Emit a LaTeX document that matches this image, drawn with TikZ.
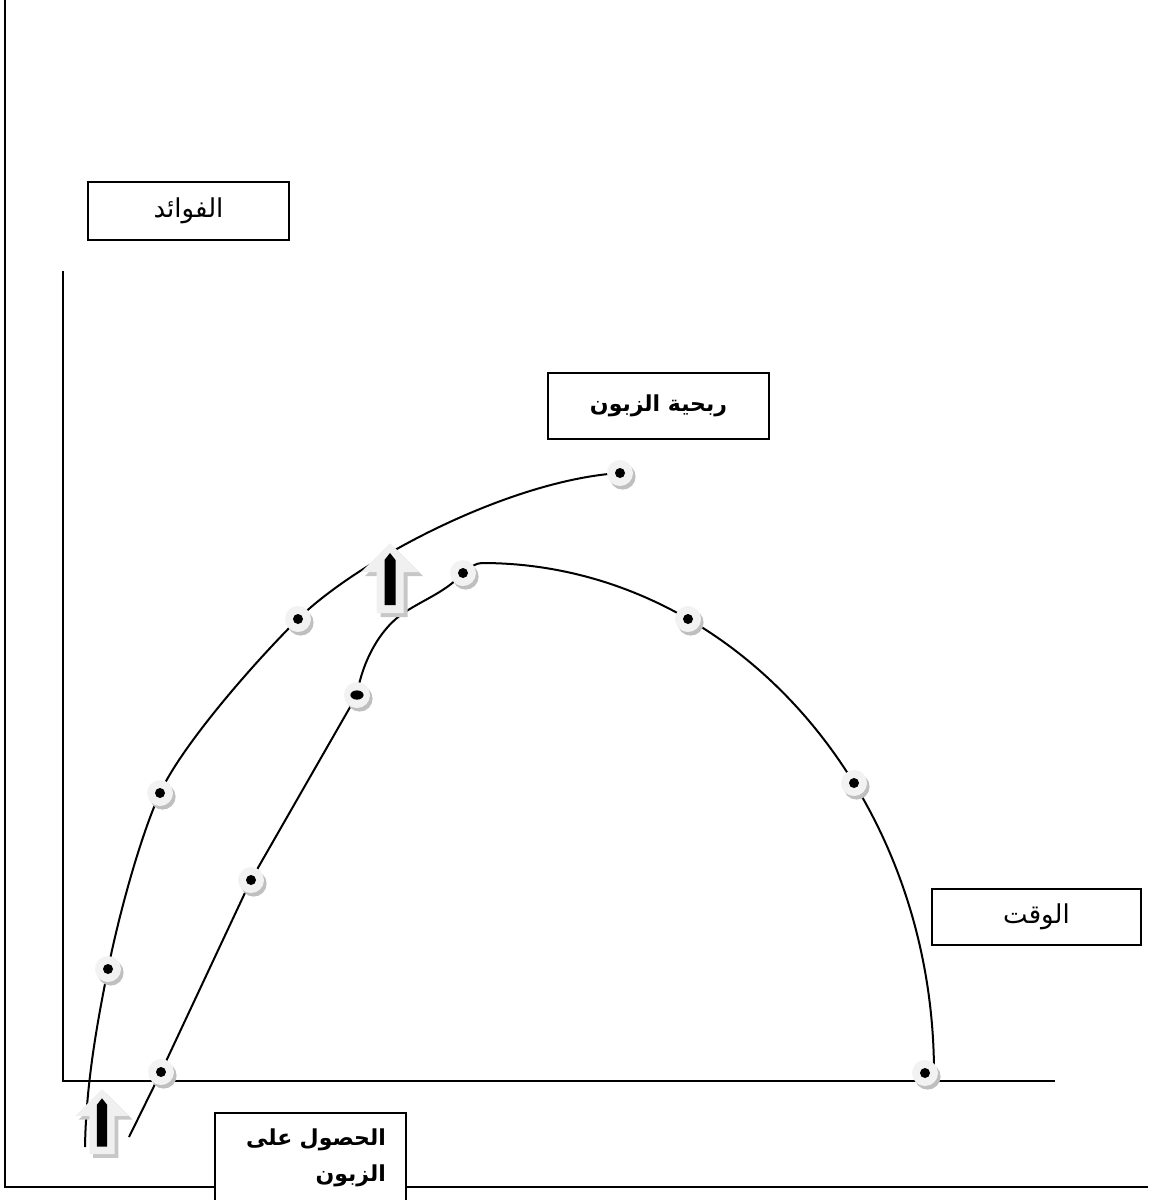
\documentclass[tikz,border=0pt]{standalone}
\usepackage{fontspec}
\newfontfamily\arabicfont[Script=Arabic]{DejaVu Sans}
\TeXXeTstate=1
\usetikzlibrary{positioning, shadows, backgrounds}

\tikzset{
  dotmark/.style={circle, fill=black!5, minimum size=13pt, inner sep=0pt,
    drop shadow={shadow xshift=1.3pt, shadow yshift=-1.8pt, fill=black!25, opacity=1},
    path picture={\fill[black] (path picture bounding box.center) circle (2.5pt);}},
  dotwide/.style={circle, fill=black!5, minimum size=13pt, inner sep=0pt,
    drop shadow={shadow xshift=1.3pt, shadow yshift=-1.8pt, fill=black!25, opacity=1},
    path picture={\fill[black] (path picture bounding box.center) ellipse (3.3pt and 2.3pt);}},
  lbl/.style={draw, line width=0.9pt, fill=white, inner sep=0pt,
    font=\arabicfont\fontsize{13}{18}\selectfont},
  lblbold/.style={lbl, font=\arabicfont\bfseries\fontsize{11}{18}\selectfont},
  curve/.style={line width=1pt},
  uparrow/.pic={
    \fill[black!22] (4,4) -- (33,33) -- (17.5,33) -- (17.5,74) -- (-9.5,74) -- (-9.5,33) -- (-25,33) -- cycle;
    \fill[black!6] (0,0) -- (29,29) -- (13.5,29) -- (13.5,70) -- (-13.5,70) -- (-13.5,29) -- (-29,29) -- cycle;
    \fill[black] (0,10) -- (5.5,17) -- (5.5,62) -- (-5.5,62) -- (-5.5,17) -- cycle;
  }
}

\begin{document}
\begin{tikzpicture}[x=0.5pt, y=-0.5pt]
  \useasboundingbox (0,0) rectangle (1148,1200);

  % outer frame and axes
  \draw[line width=1pt] (5,0) -- (5,1187) -- (1148,1187);
  \draw[line width=0.9pt] (63,271) -- (63,1081) -- (1055,1081);

  % labels
  \node[lbl, minimum width=100.5pt, minimum height=29pt] (benefit) at (188.5,211) {\beginR الفوائد\endR};
  \node[lblbold, minimum width=110.5pt, minimum height=33pt] (profit) at (658.5,406) {\beginR ربحية الزبون\endR};
  \node[lbl, minimum width=104.5pt, minimum height=28pt] (time) at (1036.5,917) {\beginR الوقت\endR};
  \node[lblbold, anchor=north west, text width=75.5pt, align=right, inner xsep=10pt, inner ysep=8pt] (acquisition) at (214,1112)
    {\beginR الحصول على\endR\\\beginR الزبون\endR};

  % points
  \coordinate (ostart) at (85,1147);
  \coordinate (istart) at (129,1137);
  \node[dotmark] (o1) at (108,969) {};
  \node[dotmark] (o2) at (160,793) {};
  \node[dotmark] (o3) at (298,619) {};
  \node[dotmark] (o4) at (620,473) {};
  \node[dotmark] (i1) at (161,1072) {};
  \node[dotmark] (i2) at (251,880) {};
  \node[dotwide] (i3) at (357,695) {};
  \node[dotmark] (i4) at (463,573) {};
  \node[dotmark] (i5) at (688,619) {};
  \node[dotmark] (i6) at (854,783) {};
  \node[dotmark] (i7) at (925,1073) {};

  % curves behind the points
  \begin{scope}[on background layer]
    \draw[curve] (ostart) .. controls (86,1087) and (96,1028) .. (o1.center)
      .. controls (120,910) and (141,835) .. (o2.center)
      .. controls (180,749) and (246,671) .. (o3.center)
      .. controls (358,560) and (510,480) .. (o4.center);
    \draw[curve] (istart) -- (i1.center) -- (i2.center) -- (i3.center)
      .. controls (362,662) and (380,628) .. (405,612)
      .. controls (425,599) and (447,591) .. (i4.center)
      .. controls (470,567) and (476,563) .. (482,563)
      arc[start angle=-90, end angle=0, x radius=452, y radius=510];
  \end{scope}

  % block arrows
  \pic at (390,543) {uparrow};
  \pic[scale=0.93] at (102,1089) {uparrow};
\end{tikzpicture}
\end{document}
